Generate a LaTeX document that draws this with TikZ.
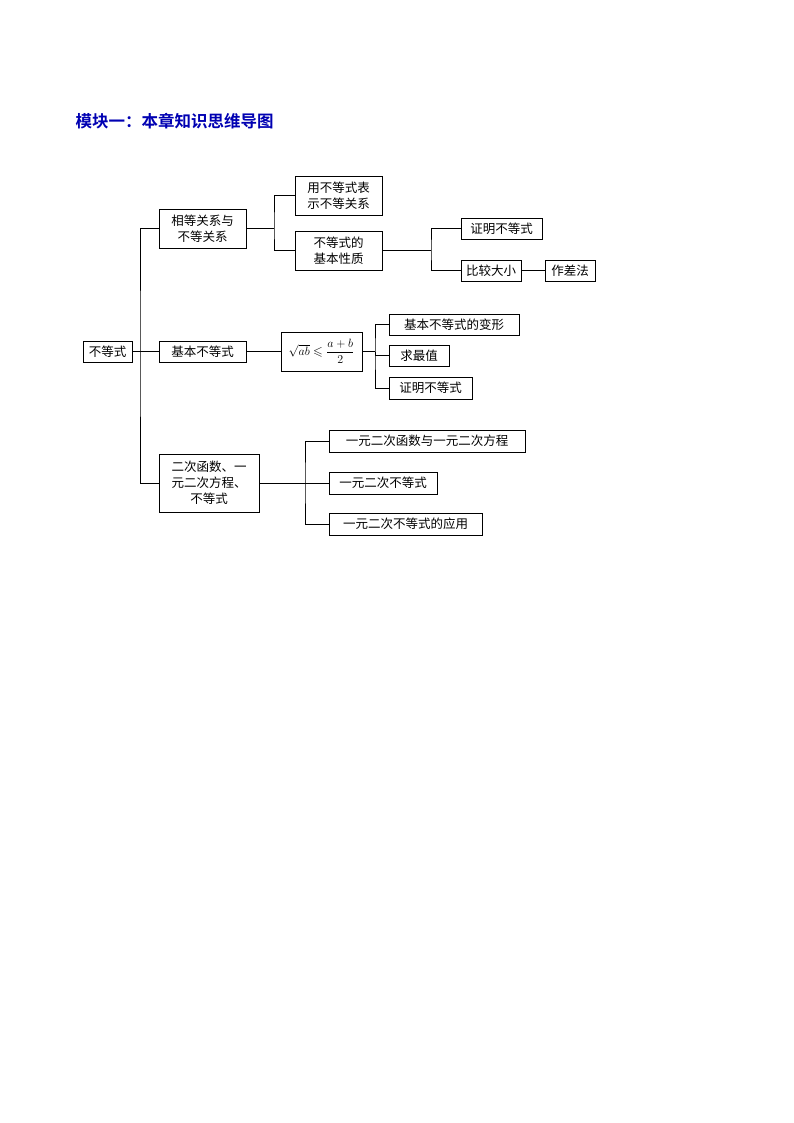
\documentclass[tikz,border=0pt]{standalone}
\usepackage{amsmath,amssymb}
\usepackage{fontspec}
\newfontfamily\cjk{Noto Sans CJK SC}
\newfontfamily\cjkb{Noto Sans CJK SC Bold}
\begin{document}
\begin{tikzpicture}[x=1pt,y=-1pt,
  bx/.style={draw,line width=0.7pt,inner sep=0pt,font=\cjk\fontsize{12.5}{16}\selectfont,align=center},
  ln/.style={line width=0.7pt}]
\useasboundingbox (0,0) rectangle (794,1123);
\node[anchor=west,text=blue!70!black,font=\cjkb\fontsize{16.5}{18}\selectfont] (title) at (72,121) {模块一：本章知识思维导图};
\def\B#1#2#3#4#5#6{\node[bx,minimum width=#4-#2,minimum height=#5-#3] (#1) at ({(#2+#4)/2},{(#3+#5)/2}) {#6};}
\B{root}{83}{341}{132}{362}{不等式}
\B{a}{159}{209}{246}{248}{相等关系与\\不等关系}
\B{b}{159}{341}{246}{362}{基本不等式}
\B{c}{159}{454}{259}{512}{二次函数、一\\元二次方程、\\不等式}
\B{a1}{295}{176}{382}{215}{用不等式表\\示不等关系}
\B{a2}{295}{231}{382}{270}{不等式的\\基本性质}
\B{a21}{461}{218}{542}{239}{证明不等式}
\B{a22}{461}{260}{521}{281}{比较大小}
\B{a23}{545}{260}{595}{281}{作差法}
\B{b1}{281}{332}{362}{371}{$\sqrt{ab}\leqslant\dfrac{a+b}{2}$}
\B{b11}{389}{314}{519}{335}{基本不等式的变形}
\B{b12}{389}{345}{449}{366}{求最值}
\B{b13}{389}{377}{472}{399}{证明不等式}
\B{c1}{329}{430}{525}{452}{一元二次函数与一元二次方程}
\B{c2}{329}{472}{437}{494}{一元二次不等式}
\B{c3}{329}{513}{482}{535}{一元二次不等式的应用}
\coordinate (t) at (140,351.5);
\coordinate (ja) at (274,228.5);
\coordinate (jb) at (431,250.5);
\coordinate (jc) at (375,351.5);
\coordinate (jd) at (305,483);
\draw[ln] (root.east) -- (b.west);
\draw[ln] (a.west) -| (t) |- (c.west);
\draw[ln] (a.east) -- (ja);
\draw[ln] (a1.west) -| (ja) |- (a2.west);
\draw[ln] (a2.east) -- (jb);
\draw[ln] (a21.west) -| (jb) |- (a22.west);
\draw[ln] (a22.east) -- (a23.west);
\draw[ln] (b.east) -- (b1.west);
\draw[ln] (b1.east) -- (jc);
\draw[ln] (jc) |- (b12.west);
\draw[ln] (b11.west) -| (jc) |- (b13.west);
\draw[ln] (c.east) -- (c2.west);
\draw[ln] (c1.west) -| (jd) |- (c3.west);
\end{tikzpicture}
\end{document}
